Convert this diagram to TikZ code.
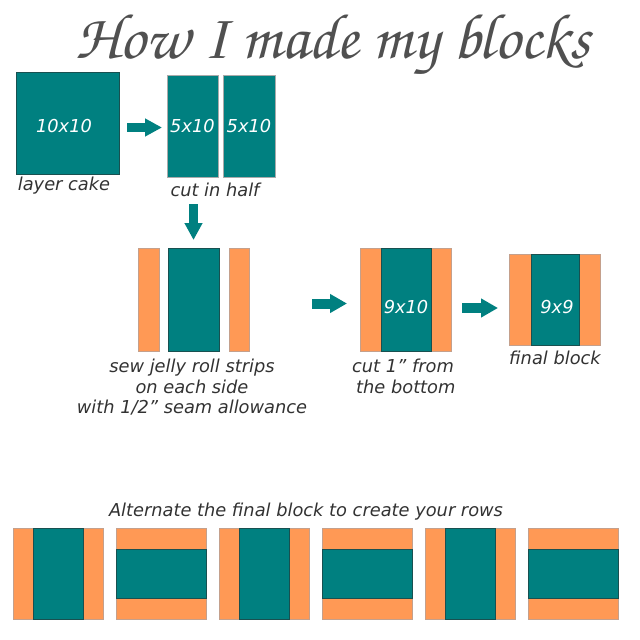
\documentclass[tikz,border=0pt]{standalone}
\usepackage{fontspec}
\newfontfamily\vfont{DejaVu Sans}
\usetikzlibrary{arrows.meta}
\definecolor{tealf}{RGB}{0,128,128}
\definecolor{teald}{RGB}{25,80,80}
\definecolor{orangef}{RGB}{255,153,85}
\definecolor{oranged}{RGB}{196,160,140}
\definecolor{txt}{RGB}{50,50,50}
\definecolor{ttl}{RGB}{80,80,80}
\definecolor{lgray}{RGB}{170,170,170}
\tikzset{
  tbox/.style={fill=tealf, draw=teald, line width=0.9pt, inner sep=0pt, outer sep=0pt,
    text=white, font=\vfont\itshape\fontsize{17.8}{20}\selectfont},
  pbox/.style={tbox, draw=lgray},
  obox/.style={fill=orangef, draw=oranged, line width=0.9pt, inner sep=0pt, outer sep=0pt},
  lbl/.style={text=txt, font=\vfont\itshape\fontsize{17.8}{20.5}\selectfont, align=center, inner sep=0pt},
  wlbl/.style={text=white, font=\vfont\itshape\fontsize{17.8}{20}\selectfont, inner sep=0pt},
  bigarrow/.style={draw=tealf, line width=10pt, -{Triangle[width=18pt,length=17pt]}},
  smallarrow/.style={draw=tealf, line width=9pt, -{Triangle[width=17pt,length=17pt]}},
  vblock/.pic={
    \node[obox, minimum width=90, minimum height=91] (-o) at (0,0) {};
    \node[tbox, minimum width=50, minimum height=91] (-t) at (0,0) {};
  },
  hblock/.pic={
    \node[obox, minimum width=90, minimum height=91] (-o) at (0,0) {};
    \node[tbox, minimum width=90, minimum height=49] (-t) at (0,0.5) {};
  }
}
\begin{document}
\begin{tikzpicture}[x=1pt, y=-1pt]
\useasboundingbox (0,0) rectangle (640,640);
% title
\node[text=ttl, anchor=base, inner sep=0pt] (title) at (333,58)
  {\resizebox{514pt}{!}{\fontencoding{T1}\fontfamily{pzc}\fontseries{mb}\fontshape{it}\selectfont How I made my blocks}};
% step 1
\node[tbox, minimum width=103, minimum height=102] (sq) at (67.5,123) {};
\node[wlbl] (t1010) at (64,126) {10x10};
\node[lbl] (l1) at (64,186) {layer cake};
\node[pbox, minimum width=51, minimum height=102] (r1) at (192.5,126) {5x10};
\node[pbox, minimum width=52, minimum height=102] (r2) at (249,126) {5x10};
\node[lbl] (l2) at (215,190) {cut in half};
\path (sq.east |- 0,127.5) ++(8,0) coordinate (a1s);
\path (r1.west |- 0,127.5) ++(-5,0) coordinate (a1e);
\draw[smallarrow] (a1s) -- (a1e);
% step 2
\node[obox, minimum width=21, minimum height=103] (sl) at (148.5,299.5) {};
\node[tbox, minimum width=51, minimum height=103] (sc) at (193.5,299.5) {};
\node[obox, minimum width=20, minimum height=103] (sr) at (239,299.5) {};
\path (sc.north |- r1.south) ++(0,27) coordinate (a2s);
\path (sc.north) ++(0,-8) coordinate (a2e);
\draw[smallarrow] (a2s) -- (a2e);
\node[lbl] (l3) at (192,387.5) {sew jelly roll strips\\on each side\\with 1/2” seam allowance};
% step 3
\node[obox, minimum width=91, minimum height=103] (b3o) at (405.5,299.5) {};
\node[tbox, minimum width=50, minimum height=103] (b3t) at (406,299.5) {};
\node[wlbl] (t910) at (406,307) {9x10};
\node[lbl] (l4) at (403,376.5) {cut 1” from\\\ the bottom};
\coordinate (a3s) at (312,303.5);
\path (b3o.west |- a3s) ++(-13,0) coordinate (a3e);
\draw[bigarrow] (a3s) -- (a3e);
% step 4
\node[obox, minimum width=91, minimum height=91] (b4o) at (554.5,299.5) {};
\node[tbox, minimum width=48, minimum height=91] (b4t) at (555,299.5) {};
\node[wlbl] (t99) at (557,307) {9x9};
\node[lbl] (l5) at (555,358) {final block};
\path (b3o.east |- 0,308) ++(11,0) coordinate (a4s);
\path (b4o.west |- 0,308) ++(-11,0) coordinate (a4e);
\draw[bigarrow] (a4s) -- (a4e);
% rows
\node[lbl] (l6) at (306,512) {Alternate the final block to create your rows};
\pic (p1) at (58,573.5) {vblock};
\pic (p2) at (161,573.5) {hblock};
\pic (p3) at (264,573.5) {vblock};
\pic (p4) at (367,573.5) {hblock};
\pic (p5) at (470.5,573.5) {vblock};
\pic (p6) at (573.5,573.5) {hblock};
\end{tikzpicture}
\end{document}
